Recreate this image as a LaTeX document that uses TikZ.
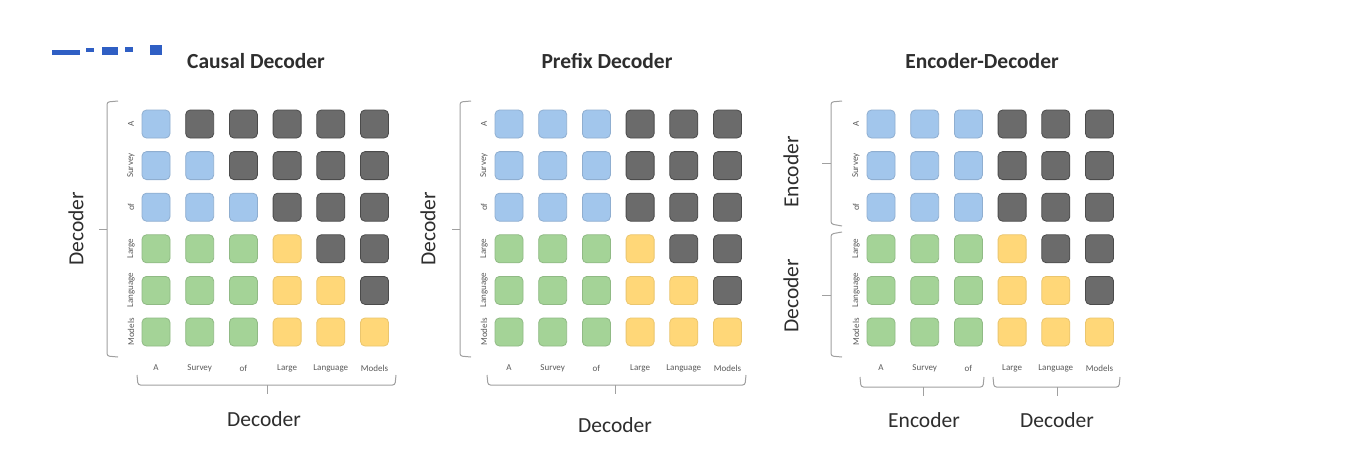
\documentclass[tikz,border=0pt]{standalone}
\usepackage{fontspec}
\setmainfont{Carlito}
\begin{document}
\begin{tikzpicture}[x=1pt,y=-1pt,
  cell/.style={rectangle,rounded corners=4.5pt,minimum width=28pt,minimum height=28pt,inner sep=0pt,line width=0.8pt},
  cellb/.style={cell,fill=cellblue,draw=cellblue!88!black},
  cellk/.style={cell,fill=cellgray,draw=cellgray!70!black},
  cellg/.style={cell,fill=cellgreen,draw=cellgreen!88!black},
  celly/.style={cell,fill=cellyellow,draw=cellyellow!92!black},
  tok/.style={font=\fontsize{9}{10}\selectfont,text=labgray,inner sep=0pt},
  rtok/.style={tok,rotate=90},
  brk/.style={draw=brkgray,line width=1pt,rounded corners=2.5pt},
  big/.style={font=\fontsize{21.5}{23}\selectfont,text=textdark,inner sep=0pt},
  title/.style={font=\bfseries\fontsize{21.5}{23}\selectfont,text=textdark,inner sep=0pt}]
\definecolor{cellblue}{HTML}{A2C6EC}
\definecolor{cellgray}{HTML}{6B6B6B}
\definecolor{cellgreen}{HTML}{A4D397}
\definecolor{cellyellow}{HTML}{FFD778}
\definecolor{labgray}{HTML}{5A5A5A}
\definecolor{brkgray}{HTML}{A0A0A0}
\definecolor{textdark}{HTML}{2E2E2E}
\definecolor{fragblue}{HTML}{2F5FC4}
\useasboundingbox[fill=white] (0,0) rectangle (1351,469);

% cut-off fragment at top left
\fill[fragblue] (52,50) rectangle (80,55);
\fill[fragblue] (86,48) rectangle (94,52);
\fill[fragblue] (102,47) rectangle (118,55);
\fill[fragblue] (125,47) rectangle (133,52);
\fill[fragblue] (150,45) rectangle (162,55);

\def\dx{43.7}
\def\dy{41.6}
\def\ytop{124}
% matrices
\foreach \m/\xo/\pat in {
  a/156/{{b,k,k,k,k,k},{b,b,k,k,k,k},{b,b,b,k,k,k},{g,g,g,y,k,k},{g,g,g,y,y,k},{g,g,g,y,y,y}},
  b/509/{{b,b,b,k,k,k},{b,b,b,k,k,k},{b,b,b,k,k,k},{g,g,g,y,k,k},{g,g,g,y,y,k},{g,g,g,y,y,y}},
  c/881/{{b,b,b,k,k,k},{b,b,b,k,k,k},{b,b,b,k,k,k},{g,g,g,y,k,k},{g,g,g,y,y,k},{g,g,g,y,y,y}}}{
  \foreach \rowlist [count=\r] in \pat {
    \foreach \col [count=\c] in \rowlist {
      \node[cell\col] (\m-\r-\c) at ({\xo+(\c-1)*\dx},{\ytop+(\r-1)*\dy}) {};
    }
  }
  \foreach \w [count=\i] in {A,Survey,of,Large,Language,Models}{
    \node[rtok] (\m-rl\i) at ({\xo-25},{\ytop+(\i-1)*\dy}) {\w};
    \node[tok] (\m-cl\i) at ({\xo+(\i-1)*\dx},368) {\w};
  }
}

% titles
\node[title] (ta) at (256,61) {Causal Decoder};
\node[title] (tb) at (607,61) {Prefix Decoder};
\node[title] (tc) at (982,61) {Encoder-Decoder};

% Causal decoder brackets
\draw[brk] (118,101) -- (107,102) -- (107,356) -- (118,357);
\draw[brk] (107,229) -- (99,229);
\draw[brk] (137,375) -- (138,385) -- (395,385) -- (396,375);
\draw[brk] (267,385) -- (267,394);
\node[big,rotate=90] (la) at (76,229) {Decoder};
\node[big] (ba) at (264,419) {Decoder};

% Prefix decoder brackets
\draw[brk] (471,101) -- (460,102) -- (460,356) -- (471,357);
\draw[brk] (460,229) -- (452,229);
\draw[brk] (487,375) -- (488,385) -- (745,385) -- (746,375);
\draw[brk] (615,385) -- (615,394);
\node[big,rotate=90] (lb) at (428,229) {Decoder};
\node[big] (bb) at (615,425) {Decoder};

% Encoder-decoder brackets
\draw[brk] (842,101) -- (831,102) -- (831,224) -- (842,226);
\draw[brk] (831,163) -- (822,163);
\draw[brk] (842,232) -- (831,234) -- (831,356) -- (842,357);
\draw[brk] (831,295) -- (822,295);
\draw[brk] (860,377) -- (861,387) -- (983,387) -- (984,377);
\draw[brk] (923,387) -- (923,396);
\draw[brk] (993,377) -- (994,387) -- (1119,387) -- (1120,377);
\draw[brk] (1057,387) -- (1057,396);
\node[big,rotate=90] (lce) at (791,172) {Encoder};
\node[big,rotate=90] (lcd) at (791,296) {Decoder};
\node[big] (bce) at (924,420) {Encoder};
\node[big] (bcd) at (1057,420) {Decoder};
\end{tikzpicture}
\end{document}
